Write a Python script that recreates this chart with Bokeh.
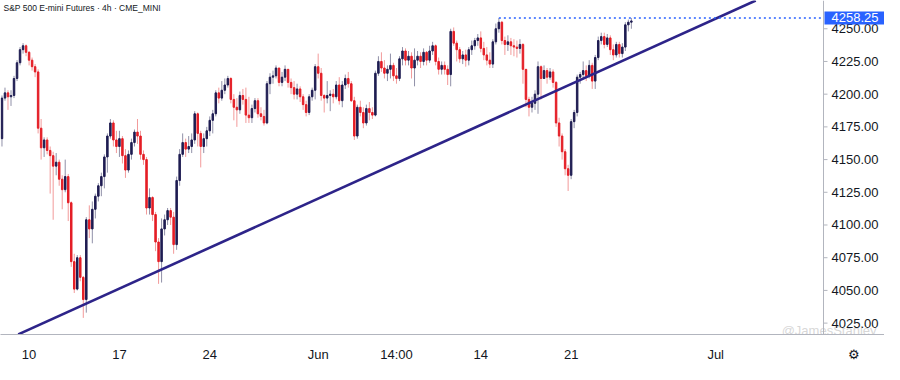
import numpy as np
from bokeh.plotting import figure
from bokeh.models import (ColumnDataSource, FixedTicker, NumeralTickFormatter,
                          Range1d, Label, Span)
from bokeh.embed import file_html
from bokeh.resources import INLINE

# ---------------- data ----------------
title_text = "S&P 500 E-mini Futures \u00b7 4h \u00b7 CME_MINI"

first_open = 4166

close = [
    4197, 4201, 4198, 4199, 4212, 4224, 4234, 4237, 4232, 4226, 4221, 4217, 4174, 4159, 4165, 4157, 4153, 4145,
    4148, 4135, 4127, 4137, 4117, 4072, 4051, 4075, 4060, 4043, 4104, 4097, 4112, 4122, 4130, 4137, 4152, 4168,
    4178, 4165, 4160, 4166, 4153, 4142, 4154, 4163, 4171, 4168, 4154, 4150, 4113, 4121, 4108, 4087, 4072, 4097,
    4104, 4111, 4106, 4085, 4134, 4154, 4163, 4158, 4160, 4165, 4185, 4170, 4160, 4166, 4172, 4180,
    4185, 4201, 4197, 4203, 4207, 4212, 4196, 4190, 4188, 4199, 4196, 4184, 4182, 4189, 4195, 4185, 4183, 4178,
    4208, 4213, 4214, 4220, 4209, 4213, 4219, 4209, 4205, 4200, 4204, 4198, 4192, 4186, 4198, 4203,
    4221, 4216, 4199, 4197, 4199, 4200, 4198, 4207, 4195, 4207, 4212, 4208, 4195, 4168, 4190, 4186, 4178, 4189,
    4186, 4184, 4216, 4225, 4220, 4216, 4219, 4222, 4214, 4212, 4227, 4233, 4226, 4229, 4220, 4226,
    4229, 4225, 4232, 4226, 4233, 4237, 4225, 4219, 4222, 4219, 4215, 4248, 4239, 4234, 4227, 4230, 4226, 4234,
    4237, 4241, 4243, 4235, 4230, 4226, 4223, 4240, 4250, 4255, 4241, 4238, 4240, 4237, 4236, 4235, 4238,
    4219, 4196, 4190, 4193, 4200, 4221, 4212, 4218, 4213, 4217, 4209, 4178, 4168, 4156, 4143, 4138,
    4179, 4186, 4213, 4215, 4218, 4214, 4222, 4210, 4228, 4241, 4244, 4238, 4243, 4234, 4230, 4238, 4231, 4236,
    4253, 4255, 4256,
]

high = [
    4199, 4205, 4203, 4203, 4214, 4226, 4236, 4239, 4238, 4233, 4228, 4223, 4219, 4181, 4167, 4167, 4160, 4156,
    4155, 4150, 4138, 4150, 4139, 4118, 4078, 4077, 4077, 4061, 4106, 4115, 4118, 4124, 4132, 4140, 4154, 4170,
    4181, 4180, 4172, 4172, 4168, 4158, 4157, 4166, 4173, 4181, 4172, 4157, 4152, 4128, 4122, 4110, 4090, 4105,
    4108, 4113, 4113, 4110, 4137, 4158, 4170, 4166, 4168, 4170, 4187, 4186, 4172, 4170, 4175, 4183,
    4188, 4203, 4205, 4210, 4212, 4214, 4213, 4200, 4197, 4202, 4204, 4205, 4198, 4192, 4197, 4197, 4190, 4188,
    4210, 4216, 4218, 4222, 4219, 4217, 4222, 4219, 4212, 4210, 4208, 4206, 4200, 4195, 4200, 4205,
    4223, 4231, 4220, 4200, 4210, 4203, 4204, 4210, 4213, 4210, 4215, 4217, 4210, 4198, 4192, 4195, 4190, 4192,
    4194, 4190, 4218, 4229, 4232, 4226, 4222, 4231, 4224, 4220, 4229, 4236, 4235, 4233, 4232, 4235,
    4233, 4232, 4235, 4233, 4237, 4240, 4238, 4228, 4225, 4225, 4222, 4250, 4251, 4241, 4236, 4233, 4234, 4236,
    4241, 4243, 4246, 4248, 4240, 4236, 4232, 4242, 4254, 4258.25, 4256, 4244, 4245, 4243, 4242, 4241, 4242,
    4239, 4219, 4198, 4198, 4203, 4225, 4222, 4222, 4220, 4220, 4219, 4210, 4182, 4170, 4158, 4146,
    4181, 4188, 4215, 4217, 4225, 4222, 4226, 4224, 4230, 4244, 4247, 4247, 4246, 4245, 4238, 4240, 4240, 4239,
    4255, 4257, 4258.25,
]

low = [
    4160, 4195, 4188, 4191, 4197, 4210, 4222, 4231, 4229, 4222, 4218, 4213, 4170, 4150, 4152, 4154, 4124, 4104,
    4138, 4130, 4112, 4125, 4103, 4068, 4048, 4050, 4057, 4029, 4033, 4090, 4086, 4105, 4118, 4122, 4128, 4140,
    4166, 4160, 4155, 4152, 4147, 4136, 4140, 4150, 4160, 4162, 4150, 4146, 4108, 4108, 4103, 4080, 4055, 4056,
    4092, 4100, 4100, 4078, 4081, 4130, 4152, 4152, 4155, 4155, 4162, 4160, 4144, 4155, 4160, 4168,
    4170, 4183, 4193, 4195, 4200, 4205, 4193, 4180, 4175, 4185, 4192, 4178, 4178, 4178, 4186, 4182, 4180, 4176,
    4177, 4200, 4208, 4212, 4206, 4206, 4210, 4205, 4200, 4196, 4196, 4194, 4188, 4183, 4184, 4195,
    4196, 4212, 4195, 4186, 4193, 4187, 4193, 4196, 4192, 4190, 4204, 4205, 4194, 4165, 4166, 4183, 4174, 4176,
    4180, 4181, 4183, 4214, 4217, 4212, 4210, 4212, 4210, 4208, 4210, 4222, 4222, 4222, 4212, 4206,
    4222, 4220, 4222, 4222, 4224, 4230, 4222, 4215, 4215, 4215, 4207, 4206, 4237, 4225, 4224, 4223, 4221, 4222,
    4230, 4234, 4237, 4232, 4226, 4222, 4220, 4220, 4238, 4247, 4238, 4230, 4233, 4230, 4229, 4228, 4231,
    4208, 4190, 4183, 4186, 4188, 4185, 4196, 4212, 4208, 4211, 4205, 4175, 4160, 4150, 4138, 4126,
    4135, 4174, 4183, 4208, 4211, 4210, 4212, 4204, 4204, 4226, 4238, 4235, 4236, 4230, 4226, 4228, 4228, 4228,
    4233, 4248, 4250,
]

tick_bars = [9, 39, 69, 105, 131, 159, 189, 237]
tick_labels = ["10", "17", "24", "Jun", "14:00", "14", "21", "Jul"]
price_ticks = [4025, 4050, 4075, 4100, 4125, 4150, 4175, 4200, 4225, 4250]

resistance_price = 4258.25
resistance_start_bar = 165

trend_bars = [5.4, 250.3]
trend_prices = [4016.4, 4271.6]

watermark_text = "@JamesStanley"
gear_text = "\u2699"

# ---------------- build ----------------
close_a = np.array(close, dtype=float)
open_a = np.concatenate([[first_open], close_a[:-1]])
high_a = np.maximum.reduce([np.array(high, dtype=float), open_a, close_a])
low_a = np.minimum.reduce([np.array(low, dtype=float), open_a, close_a])
idx = np.arange(len(close_a))
up = close_a >= open_a

UP_BODY, DOWN_BODY = "#1f1d52", "#e41e26"
UP_WICK, DOWN_WICK = "#9090a8", "#f29a9a"

src = ColumnDataSource(dict(
    x=idx, open=open_a, close=close_a, high=high_a, low=low_a,
    top=np.maximum(open_a, close_a), bottom=np.minimum(open_a, close_a),
    body=[UP_BODY if u else DOWN_BODY for u in up],
    wick=[UP_WICK if u else DOWN_WICK for u in up],
))

# layout: the frame covers the whole width; the price scale lives in its right-hand strip
W, H = 884, 364
BOTTOM = 26
SCALE_W = 61                      # width of the price-scale strip
CHART_W = W - SCALE_W             # width of the candle area

X0, XSEP = -0.49, 272.8           # bar range of the candle area
PX_PER_BAR = CHART_W / (XSEP - X0)
X1 = X0 + W / PX_PER_BAR          # frame end (includes the price-scale strip)
Y0, Y1 = 4016.3, 4271.6

p = figure(width=W, height=H, x_range=Range1d(X0, X1), y_range=Range1d(Y0, Y1),
           output_backend="svg", toolbar_location=None, y_axis_location="right",
           min_border_left=0, min_border_top=0, min_border_right=0, min_border_bottom=BOTTOM)
p.background_fill_color = "white"
p.border_fill_color = "white"
p.outline_line_color = None
p.xgrid.visible = False
p.ygrid.visible = False

AXIS_GREY = "#b2b5be"
TXT = "#131722"
FONT = "Liberation Sans"
FS = "13px"

# price axis: labels drawn back into the price-scale strip
ya = p.yaxis[0]
ya.ticker = FixedTicker(ticks=price_ticks)
ya.formatter = NumeralTickFormatter(format="0.00")
ya.axis_line_color = None
ya.major_tick_line_color = None
ya.minor_tick_line_color = None
ya.major_tick_out = 0
ya.major_tick_in = 0
ya.major_label_standoff = -(SCALE_W - 8)
ya.major_label_text_font = FONT
ya.major_label_text_font_size = FS
ya.major_label_text_color = TXT

# time axis
xa = p.xaxis[0]
gear_bar = XSEP + (SCALE_W / 2) / PX_PER_BAR
xa.ticker = FixedTicker(ticks=tick_bars + [gear_bar])
overrides = {b: t for b, t in zip(tick_bars, tick_labels)}
overrides[gear_bar] = gear_text
xa.major_label_overrides = overrides
xa.axis_line_color = AXIS_GREY
xa.major_tick_line_color = None
xa.minor_tick_line_color = None
xa.major_label_standoff = 6
xa.major_label_text_font = FONT
xa.major_label_text_font_size = FS
xa.major_label_text_color = TXT

# separator of the price scale and its tick marks
p.add_layout(Span(location=XSEP, dimension="height", line_color=AXIS_GREY, line_width=1))
tick_len = 4 / PX_PER_BAR
p.segment(x0=[XSEP] * len(price_ticks), x1=[XSEP + tick_len] * len(price_ticks),
          y0=price_ticks, y1=price_ticks, line_color=AXIS_GREY, line_width=1)

# watermark (faint, under everything else)
p.add_layout(Label(x=X1, y=Y0, x_offset=-8, y_offset=4, text=watermark_text, text_baseline="middle",
                   text_align="right", text_color="#d0d0d0", text_alpha=0.85,
                   text_font=FONT, text_font_size="13px", level="underlay"))

# candles
p.segment(x0="x", y0="low", x1="x", y1="high", line_color="wick", line_width=1, source=src)
p.vbar(x="x", width=0.5, top="top", bottom="bottom", fill_color="body", line_color="body",
       line_width=1, source=src)

# trend line
p.line(trend_bars, trend_prices, line_color="#2d2489", line_width=2.6)

# resistance dotted line
p.segment(x0=[resistance_start_bar], x1=[XSEP], y0=[resistance_price], y1=[resistance_price],
          line_color="#2962ff", line_width=1.5, line_dash="2 3")

# price tag on the price scale
tag_kw = dict(x=XSEP, y=resistance_price, x_offset=1, text=f"{resistance_price:.2f}",
              text_baseline="middle", text_align="left", text_color="white",
              text_font=FONT, text_font_size=FS,
              background_fill_color="#2962ff", background_fill_alpha=1.0)
try:
    tag = Label(padding=(7, 2), **tag_kw)
except Exception:
    tag = Label(**tag_kw)
p.add_layout(tag)

# title
p.add_layout(Label(x=X0, y=Y1, x_offset=3, y_offset=-2, text=title_text, text_baseline="top",
                   text_align="left", text_color=TXT, text_font=FONT, text_font_size="8.5px"))

open("out.html", "w").write(file_html(p, INLINE))
